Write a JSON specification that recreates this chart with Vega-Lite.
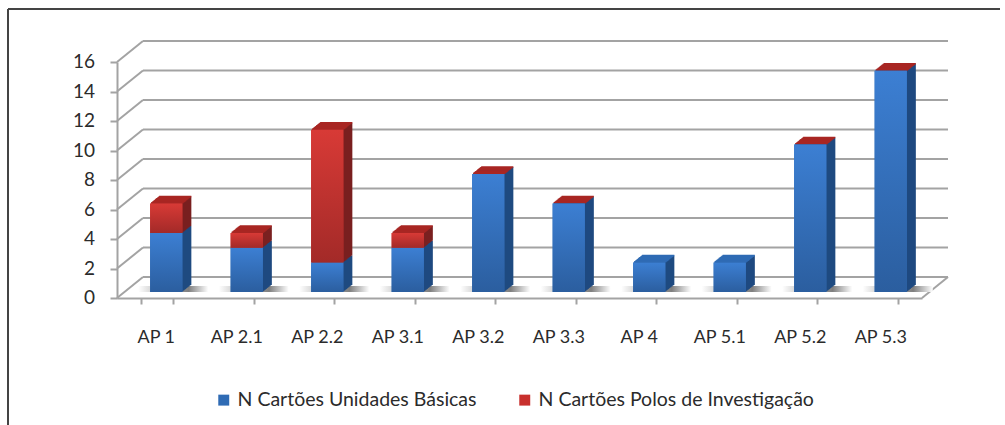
{"$schema":"https://vega.github.io/schema/vega-lite/v6.json","width":805,"height":236,"autosize":"none","padding":{"left":117,"top":62,"right":83,"bottom":127},"background":"#ffffff","config":{"view":{"stroke":null},"font":"Lato"},
"datasets":{"bars":[
{"ap":"AP 1","serie":"N Cartões Unidades Básicas","ordem":1,"valor":4},{"ap":"AP 2.1","serie":"N Cartões Unidades Básicas","ordem":1,"valor":3},{"ap":"AP 2.2","serie":"N Cartões Unidades Básicas","ordem":1,"valor":2},{"ap":"AP 3.1","serie":"N Cartões Unidades Básicas","ordem":1,"valor":3},{"ap":"AP 3.2","serie":"N Cartões Unidades Básicas","ordem":1,"valor":8},{"ap":"AP 3.3","serie":"N Cartões Unidades Básicas","ordem":1,"valor":6},{"ap":"AP 4","serie":"N Cartões Unidades Básicas","ordem":1,"valor":2},{"ap":"AP 5.1","serie":"N Cartões Unidades Básicas","ordem":1,"valor":2},{"ap":"AP 5.2","serie":"N Cartões Unidades Básicas","ordem":1,"valor":10},{"ap":"AP 5.3","serie":"N Cartões Unidades Básicas","ordem":1,"valor":15},
{"ap":"AP 1","serie":"N Cartões Polos de Investigação","ordem":2,"valor":2},{"ap":"AP 2.1","serie":"N Cartões Polos de Investigação","ordem":2,"valor":1},{"ap":"AP 2.2","serie":"N Cartões Polos de Investigação","ordem":2,"valor":9},{"ap":"AP 3.1","serie":"N Cartões Polos de Investigação","ordem":2,"valor":1},{"ap":"AP 3.2","serie":"N Cartões Polos de Investigação","ordem":2,"valor":0},{"ap":"AP 3.3","serie":"N Cartões Polos de Investigação","ordem":2,"valor":0},{"ap":"AP 5.2","serie":"N Cartões Polos de Investigação","ordem":2,"valor":0},{"ap":"AP 5.3","serie":"N Cartões Polos de Investigação","ordem":2,"valor":0}],
"grid":[{"v":0},{"v":2},{"v":4},{"v":6},{"v":8},{"v":10},{"v":12},{"v":14},{"v":16}]},
"resolve":{"scale":{"x":"independent"}},
"layer":[
{"data":{"name":"grid"},"encoding":{"y":{"field":"v","type":"quantitative","title":null,"scale":{"domain":[0,16],"nice":false},"axis":{"values":[0,2,4,6,8,10,12,14,16],"tickCount":9,"labels":false,"tickSize":7,"tickWidth":2,"tickColor":"#a3a3a3","domainColor":"#a3a3a3","domainWidth":2,"grid":false,"title":null}}},
"layer":[
{"mark":{"type":"rule","color":"#a3a3a3","strokeWidth":2,"xOffset":26,"x2Offset":26,"yOffset":-21},"encoding":{"x":{"datum":0,"type":"quantitative","scale":{"domain":[0,1]},"axis":null},"x2":{"datum":1}}},
{"mark":{"type":"rule","color":"#a3a3a3","strokeWidth":2,"x2Offset":26,"y2Offset":-21},"encoding":{"x":{"datum":0,"type":"quantitative","axis":null},"x2":{"datum":0},"y2":{"field":"v"}}},
{"mark":{"type":"text","align":"right","baseline":"middle","fontSize":19,"color":"#2b2b2b","xOffset":-22},"encoding":{"x":{"datum":0,"type":"quantitative","axis":null},"text":{"field":"v","type":"nominal"}}},
{"transform":[{"filter":"datum.v==0"}],"mark":{"type":"rule","color":"#a3a3a3","strokeWidth":2,"x2Offset":26,"y2Offset":-21},"encoding":{"x":{"datum":1,"type":"quantitative","axis":null},"x2":{"datum":1},"y2":{"field":"v"}}},
{"transform":[{"filter":"datum.v==16"}],"mark":{"type":"rule","color":"#444444","strokeWidth":2,"xOffset":-109,"x2Offset":78,"yOffset":-53},"encoding":{"x":{"datum":0,"type":"quantitative","axis":null},"x2":{"datum":1}}},
{"transform":[{"filter":"datum.v==0"}],"mark":{"type":"rule","color":"#444444","strokeWidth":2,"xOffset":-109,"x2Offset":-109,"yOffset":127,"y2Offset":-53},"encoding":{"x":{"datum":0,"type":"quantitative","axis":null},"x2":{"datum":0},"y2":{"datum":16}}}
]},
{"data":{"name":"bars"},"transform":[{"stack":"valor","groupby":["ap"],"sort":[{"field":"ordem"}],"as":["y0","y1"]},{"joinaggregate":[{"op":"max","field":"ordem","as":"maxOrdem"}],"groupby":["ap"]}],
"encoding":{"x":{"field":"ap","type":"nominal","sort":null,"title":null,"scale":{"paddingInner":0.6,"paddingOuter":0.3},"axis":{"labelAngle":0,"labelFontSize":18,"labelColor":"#2b2b2b","labelPadding":24,"labelOffset":-1.5,"tickBand":"extent","tickSize":6,"tickWidth":2,"tickColor":"#a3a3a3","domainColor":"#a3a3a3","domainWidth":2,"grid":false}},
"y":{"field":"y1","type":"quantitative","title":null,"scale":{"domain":[0,16],"nice":false}},
"y2":{"field":"y0"}},
"layer":[
{"transform":[{"filter":"datum.ordem==1"}],"mark":{"type":"bar","size":70,"xOffset":16,"yOffset":-6,"y2Offset":-6,"color":{"gradient":"linear","x1":0,"y1":0,"x2":1,"y2":0,"stops":[{"offset":0,"color":"#ffffff"},{"offset":0.2,"color":"#d4d4d4"},{"offset":0.72,"color":"#7f7f7f"},{"offset":1,"color":"#ffffff"}]}},"encoding":{"y":{"datum":0,"type":"quantitative"},"y2":{"datum":0.4}}},
{"mark":{"type":"bar","xOffset":18,"yOffset":-13,"y2Offset":-13},"encoding":{"color":{"condition":{"test":"datum.ordem==1","value":"#1f4a80"},"value":"#7a2020"}}},
{"mark":{"type":"bar","xOffset":17,"yOffset":-12.2,"y2Offset":-12.2},"encoding":{"color":{"condition":{"test":"datum.ordem==1","value":"#1f4a80"},"value":"#7a2020"}}},
{"mark":{"type":"bar","xOffset":16,"yOffset":-11.5,"y2Offset":-11.5},"encoding":{"color":{"condition":{"test":"datum.ordem==1","value":"#1f4a80"},"value":"#7a2020"}}},
{"mark":{"type":"bar","xOffset":15,"yOffset":-10.7,"y2Offset":-10.7},"encoding":{"color":{"condition":{"test":"datum.ordem==1","value":"#1f4a80"},"value":"#7a2020"}}},
{"mark":{"type":"bar","xOffset":14,"yOffset":-9.9,"y2Offset":-9.9},"encoding":{"color":{"condition":{"test":"datum.ordem==1","value":"#1f4a80"},"value":"#7a2020"}}},
{"mark":{"type":"bar","xOffset":13,"yOffset":-9.1,"y2Offset":-9.1},"encoding":{"color":{"condition":{"test":"datum.ordem==1","value":"#1f4a80"},"value":"#7a2020"}}},
{"mark":{"type":"bar","xOffset":12,"yOffset":-8.3,"y2Offset":-8.3},"encoding":{"color":{"condition":{"test":"datum.ordem==1","value":"#1f4a80"},"value":"#7a2020"}}},
{"mark":{"type":"bar","xOffset":11,"yOffset":-7.6,"y2Offset":-7.6},"encoding":{"color":{"condition":{"test":"datum.ordem==1","value":"#1f4a80"},"value":"#7a2020"}}},
{"mark":{"type":"bar","xOffset":10,"yOffset":-6.8,"y2Offset":-6.8},"encoding":{"color":{"condition":{"test":"datum.ordem==1","value":"#1f4a80"},"value":"#7a2020"}}},
{"transform":[{"filter":"datum.ordem==datum.maxOrdem"}],"encoding":{"y2":{"field":"y1"},"stroke":{"condition":{"test":"datum.ordem==1","value":"#2f6bb4"},"value":"#a82623"}},
"layer":[
{"mark":{"type":"bar","strokeWidth":1.5,"xOffset":18,"yOffset":-13,"y2Offset":-13}},
{"mark":{"type":"bar","strokeWidth":1.5,"xOffset":17,"yOffset":-12.2,"y2Offset":-12.2}},
{"mark":{"type":"bar","strokeWidth":1.5,"xOffset":16,"yOffset":-11.5,"y2Offset":-11.5}},
{"mark":{"type":"bar","strokeWidth":1.5,"xOffset":15,"yOffset":-10.7,"y2Offset":-10.7}},
{"mark":{"type":"bar","strokeWidth":1.5,"xOffset":14,"yOffset":-9.9,"y2Offset":-9.9}},
{"mark":{"type":"bar","strokeWidth":1.5,"xOffset":13,"yOffset":-9.1,"y2Offset":-9.1}},
{"mark":{"type":"bar","strokeWidth":1.5,"xOffset":12,"yOffset":-8.3,"y2Offset":-8.3}},
{"mark":{"type":"bar","strokeWidth":1.5,"xOffset":11,"yOffset":-7.6,"y2Offset":-7.6}},
{"mark":{"type":"bar","strokeWidth":1.5,"xOffset":10,"yOffset":-6.8,"y2Offset":-6.8}}
]},
{"mark":{"type":"bar","xOffset":9,"yOffset":-6,"y2Offset":-6},"encoding":{"color":{"field":"serie","type":"nominal","sort":null,"scale":{"domain":["N Cartões Unidades Básicas","N Cartões Polos de Investigação"],"range":["#2f6bb4","#c8302d"]},"legend":{"title":null,"orient":"none","legendX":97,"legendY":328,"direction":"horizontal","columns":2,"symbolType":"square","symbolSize":120,"symbolStrokeWidth":0,"labelFontSize":19.5,"labelColor":"#2b2b2b","labelLimit":340,"columnPadding":38}}}},
{"transform":[{"filter":"datum.ordem==1"}],"mark":{"type":"bar","xOffset":9,"yOffset":-6,"y2Offset":-6,"color":{"gradient":"linear","x1":0,"y1":0,"x2":0,"y2":1,"stops":[{"offset":0,"color":"#3c7fd3"},{"offset":1,"color":"#2b5e9f"}]}}},
{"transform":[{"filter":"datum.ordem==2"}],"mark":{"type":"bar","xOffset":9,"yOffset":-6,"y2Offset":-6,"color":{"gradient":"linear","x1":0,"y1":0,"x2":0,"y2":1,"stops":[{"offset":0,"color":"#d83a36"},{"offset":1,"color":"#a32a28"}]}}}
]}
]}
